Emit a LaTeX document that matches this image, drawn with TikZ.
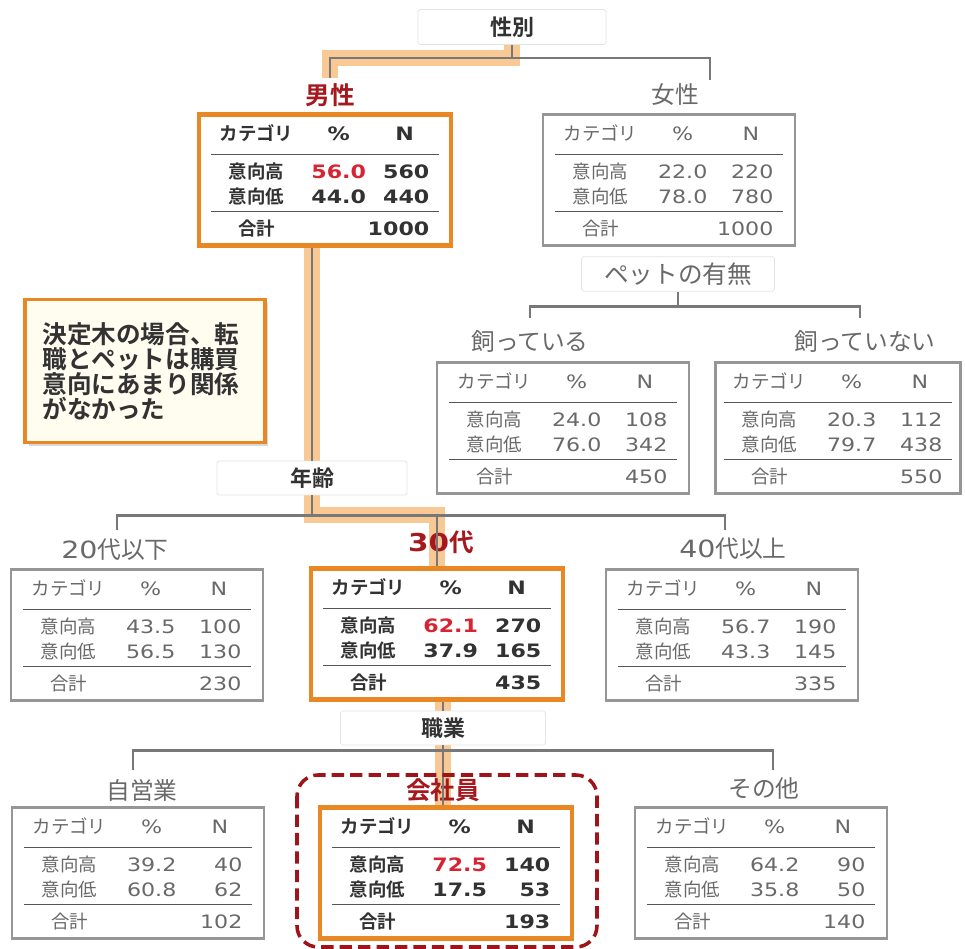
\documentclass[tikz,border=0pt]{standalone}
\usepackage{fontspec}
\setmainfont{Noto Sans CJK JP}[BoldFont={Noto Sans CJK JP Bold}]
\newfontfamily\numf{DejaVu Sans}[FakeStretch=1.2]
\usepackage{array,colortbl}
\usetikzlibrary{positioning,backgrounds,shadows}
\definecolor{SelOrange}{RGB}{232,135,35}
\definecolor{GlowOrange}{RGB}{245,172,92}
\definecolor{LineGray}{RGB}{120,120,120}
\definecolor{BoxGray}{RGB}{150,150,150}
\definecolor{QGray}{RGB}{228,228,228}
\definecolor{RuleGray}{RGB}{85,85,85}
\definecolor{TextGray}{RGB}{105,105,105}
\definecolor{TextDark}{RGB}{50,50,50}
\definecolor{LabelRed}{RGB}{165,25,30}
\definecolor{ValRed}{RGB}{215,35,50}
\definecolor{NoteFill}{RGB}{255,252,240}
\definecolor{FrameRed}{RGB}{160,20,25}

\newcommand{\tabfont}{\fontsize{10.5}{12}\selectfont}
\newcommand{\hival}[1]{\textcolor{ValRed}{#1}}
\renewcommand{\arraystretch}{1.18}
\setlength{\arrayrulewidth}{0.9pt}
\arrayrulecolor{RuleGray}
% one result table: pct/N for high, pct/N for low, total
\newcommand{\cattab}[5]{%
  \begin{tabular}{@{\hspace{3pt}}w{c}{46pt}@{\hspace{5.8pt}}>{\numf}w{c}{36pt}@{\hspace{2.6pt}}>{\numf}w{r}{31pt}@{\hspace{5.6pt}}}
    \noalign{\vskip 4pt}
    カテゴリ & \% & N\hphantom{0}\\[3pt]
    \hline\noalign{\vskip 3.3pt}
    意向高 & #1 & #2\\
    意向低 & #3 & #4\\
    \hline\noalign{\vskip 3.5pt}
    合計 & & #5
  \end{tabular}}

\tikzset{
  qbox/.style={draw=QGray, fill=white, rounded corners=1pt, minimum width=3.8cm,
    minimum height=0.68cm, font=\bfseries\fontsize{12.5}{14}\selectfont, text=TextDark},
  brlabel/.style={font=\fontsize{13.5}{15}\selectfont, text=TextGray},
  sellabel/.style={font=\bfseries\fontsize{14}{15}\selectfont, text=LabelRed},
  tab/.style={draw=BoxGray, line width=1.4pt, fill=white, minimum width=5.04cm,
    minimum height=2.62cm, inner sep=0pt, text=TextGray, font=\tabfont},
  seltab/.style={tab, draw=SelOrange, line width=2.8pt, text=TextDark, font=\tabfont\bfseries},
  branch/.style={draw=LineGray, line width=1.5pt},
  glow/.style={draw=GlowOrange, line width=9pt, opacity=0.65},
  notebox/.style={draw=SelOrange, line width=2pt, fill=NoteFill, text width=4.1cm,
    inner xsep=0.35cm, minimum height=2.86cm, align=left, text=TextDark,
    font=\bfseries\fontsize{14}{14.2}\selectfont,
    drop shadow={shadow xshift=2pt, shadow yshift=-2pt, fill=black!30}},
  selframe/.style={draw=FrameRed, line width=2pt, dash pattern=on 7pt off 3.5pt, rounded corners=12pt}
}

\begin{document}
\begin{tikzpicture}[x=0.02cm, y=-0.02cm]
  \useasboundingbox (0,0) rectangle (965,949);

  % split questions
  \node[qbox, minimum width=3.76cm, minimum height=0.7cm] (sexq) at (512,27) {性別};
  \node[qbox, minimum width=3.86cm, minimum height=0.64cm, font=\fontsize{14}{15}\selectfont, text=TextGray] (petq) at (678,274) {ペットの有無};
  \node[qbox] (ageq) at (312,478) {年齢};
  \node[qbox, minimum width=4.1cm] (jobq) at (443,728) {職業};

  % branch labels
  \node[sellabel] (male) at (330,95) {男性};
  \node[brlabel] (female) at (675,95) {女性};
  \node[brlabel] (petyes) at (530,342) {飼っている};
  \node[brlabel] (petno) at (865,342) {飼っていない};
  \node[brlabel] (age20) at (115,550) {{\numf 20}代以下};
  \node[sellabel] (age30) at (441,542) {{\numf 30}代};
  \node[brlabel] (age40) at (733,549) {{\numf 40}代以上};
  \node[brlabel] (self) at (142,790) {自営業};
  \node[sellabel] (emp) at (443,790) {会社員};
  \node[brlabel] (other) at (764,788) {その他};

  % result tables
  \node[seltab] (maleT) at (325,180) {\cattab{\hival{56.0}}{560}{44.0}{440}{1000}};
  \node[tab] (femaleT) at (669,180) {\cattab{22.0}{220}{78.0}{780}{1000}};
  \node[tab] (yesT) at (563,428) {\cattab{24.0}{108}{76.0}{342}{450}};
  \node[tab, minimum width=4.9cm] (noT) at (838,428) {\cattab{20.3}{112}{79.7}{438}{550}};
  \node[tab] (age20T) at (137,635) {\cattab{43.5}{100}{56.5}{130}{230}};
  \node[seltab] (age30T) at (437,634) {\cattab{\hival{62.1}}{270}{37.9}{165}{435}};
  \node[tab] (age40T) at (732,635) {\cattab{56.7}{190}{43.3}{145}{335}};
  \node[tab] (selfT) at (138,873) {\cattab{39.2}{40}{60.8}{62}{102}};
  \node[seltab] (empT) at (446,873) {\cattab{\hival{72.5}}{140}{17.5}{53}{193}};
  \node[tab] (otherT) at (761,873) {\cattab{64.2}{90}{35.8}{50}{140}};

  % comment box
  \node[notebox] (note) at (145,371) {決定木の場合、転\\職とペットは購買\\意向にあまり関係\\がなかった};

  % branch ends
  \coordinate (sexL) at (330,78);
  \coordinate (sexR) at (710,80);
  \coordinate (petL) at (530,318);
  \coordinate (petR) at (860,318);
  \coordinate (ageL) at (117,530);
  \coordinate (ageR) at (725,530);
  \coordinate (jobL) at (133,770);
  \coordinate (jobR) at (773,770);

  % highlighted path
  \begin{scope}[on background layer]
    \draw[glow] (sexq.south) -- ++(0,13) -| (sexL);
    \draw[glow] (maleT.south -| ageq) -- (ageq.north);
    \draw[glow] (ageq.south) -- ++(0,20) -| (age30T.north);
    \draw[glow] (age30T.south -| jobq) -- (jobq.north);
    \draw[glow] (jobq.south) -- (jobq.south |- empT.north);
  \end{scope}

  \draw[branch] (sexq.south) -- ++(0,13) -| (sexL);
  \draw[branch] (sexq.south) ++(0,13) -| (sexR);
  \draw[branch] (maleT.south -| ageq) -- (ageq.north);
  \draw[branch] (petq.south) -- ++(0,15) -| (petL);
  \draw[branch] (petq.south) ++(0,15) -| (petR);
  \draw[branch] (ageq.south) -- ++(0,20) -| (ageL);
  \draw[branch] (ageq.south) ++(0,20) -| (ageR);
  \draw[branch] (ageq.south) ++(0,20) -| (age30T.north);
  \draw[branch] (age30T.south -| jobq) -- (jobq.north);
  \draw[branch] (jobq.south) -- ++(0,5) -| (jobL);
  \draw[branch] (jobq.south) ++(0,5) -| (jobR);
  \draw[branch] (jobq.south) -- (jobq.south |- empT.north);

  \draw[selframe] (297,775) rectangle (597,947);
\end{tikzpicture}
\end{document}
